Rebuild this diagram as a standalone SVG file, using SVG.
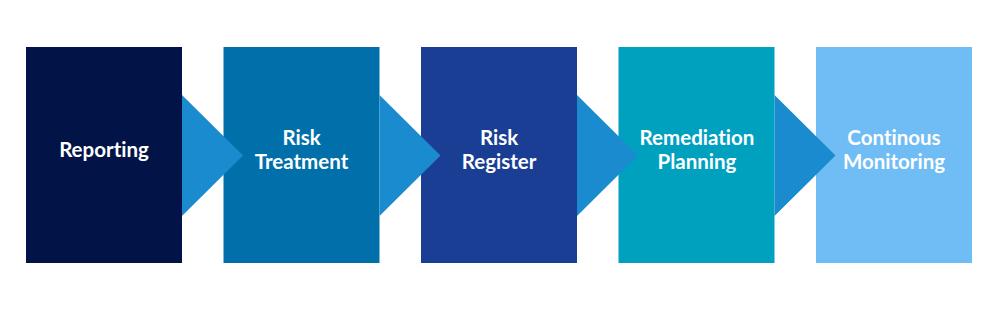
<svg xmlns="http://www.w3.org/2000/svg" width="1000" height="310" viewBox="0 0 1000 310">
<style>
.lbl{font-family:Lato,"Open Sans",sans-serif;font-weight:700;font-size:20.5px;fill:#ffffff;text-anchor:middle;font-variant-ligatures:none;font-feature-settings:"liga" 0,"dlig" 0}
.arr{fill:#1b8bcf}
</style>
<rect width="1000" height="310" fill="#ffffff"/>
<g id="n1"><rect x="26" y="47" width="156" height="216" fill="#021447"/><text class="lbl" x="104" y="157">Reporting</text></g>
<g id="n2"><rect x="223.5" y="47" width="156" height="216" fill="#0170aa"/><text class="lbl" x="301.5" y="144.5">Risk</text><text class="lbl" x="301.5" y="168.5">Treatment</text></g>
<g id="n3"><rect x="421" y="47" width="156" height="216" fill="#1a3e94"/><text class="lbl" x="499" y="144.5">Risk</text><text class="lbl" x="499" y="168.5">Register</text></g>
<g id="n4"><rect x="618.5" y="47" width="156" height="216" fill="#00a0bf"/><text class="lbl" x="697" y="144.5">Remediation</text><text class="lbl" x="697" y="168.5">Planning</text></g>
<g id="n5"><rect x="816" y="47" width="156" height="216" fill="#6fbdf4"/><text class="lbl" x="894" y="144.5">Continous</text><text class="lbl" x="894" y="168.5">Monitoring</text></g>
<g id="connectors">
<polygon class="arr" points="182,95 243,155.5 182,216"/>
<polygon class="arr" points="379.5,95 440.5,155.5 379.5,216"/>
<polygon class="arr" points="577,95 638,155.5 577,216"/>
<polygon class="arr" points="774.5,95 835.5,155.5 774.5,216"/>
</g>
</svg>
